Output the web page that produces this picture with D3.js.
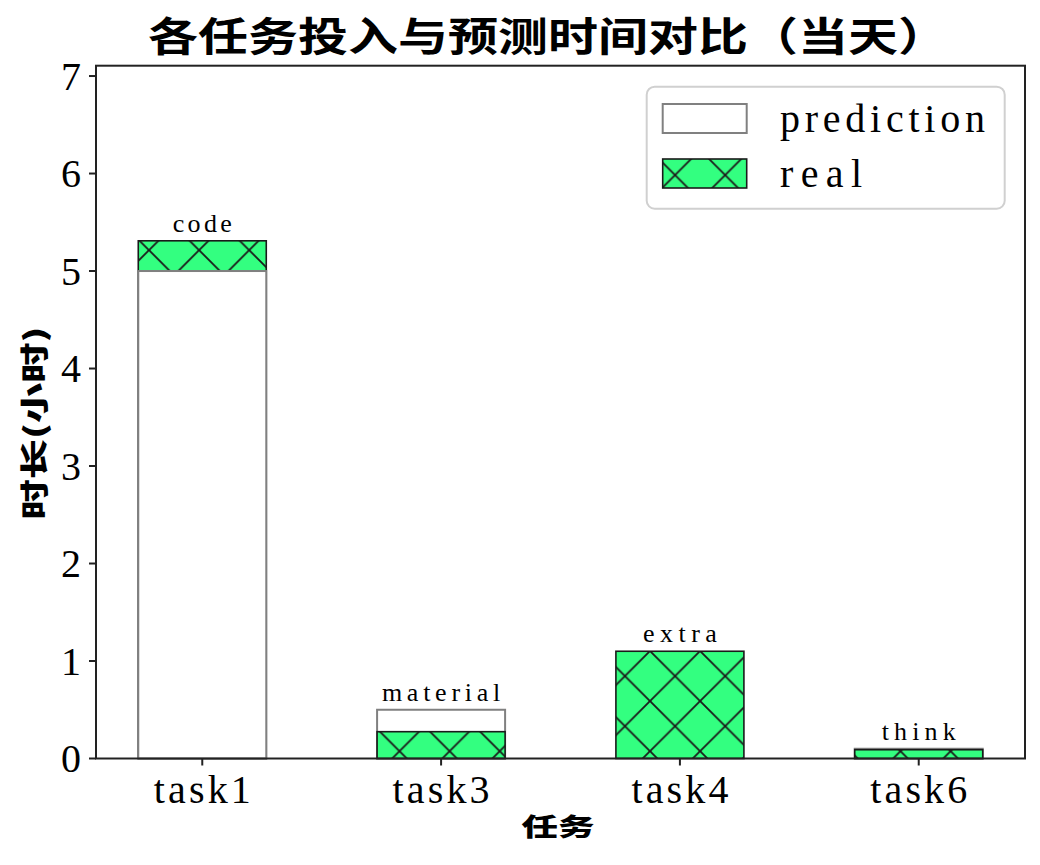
<!DOCTYPE html>
<html><head><meta charset="utf-8">
<script src="https://cdn.jsdelivr.net/npm/d3@7"></script>
<style>body{margin:0;background:#fff}svg{display:block}</style>
</head><body>
<script>
const tasks = ["task1", "task3", "task4", "task6"];
const prediction = [5, 0.5, 0, 0.1];
const real = [5.31, 0.275, 1.1, 0.09];
const barLabels = ["code", "material", "extra", "think"];
const yTicks = [0, 1, 2, 3, 4, 5, 6, 7];

const W = 1040, H = 865;
const L = 96, R = 1025, T = 65.7, B = 758.5;
const svg = d3.select("body").append("svg").attr("width", W).attr("height", H);

const x = d3.scaleLinear().domain([-0.445, tasks.length - 1 + 0.445]).range([L, R]);
const y = d3.scaleLinear().domain([0, 7.106]).range([B, T]);
const bw = 0.536;
const serif = "'Liberation Serif', 'DejaVu Serif', serif";
const cjk = "'Noto Sans CJK SC', sans-serif";

// hatch pattern
const p = 50.1;
const defs = svg.append("defs");
const pat = defs.append("pattern").attr("id", "hx").attr("patternUnits", "userSpaceOnUse")
  .attr("x", -1.3).attr("y", -0.3).attr("width", p).attr("height", p);
pat.append("rect").attr("width", p).attr("height", p).attr("fill", "#33ff80");
let d = "";
for (const o of [-p, 0, p]) {
  d += `M${o - 3},${-3} L${o + p + 3},${p + 3} `;
  d += `M${o - 3},${p + 3} L${o + p + 3},${-3} `;
}
pat.append("path").attr("d", d).attr("stroke", "#1a1a1a").attr("stroke-width", 1.8).attr("fill", "none");

// bars
const g = svg.append("g");
tasks.forEach((t, i) => {
  const items = [
    {v: prediction[i], kind: "p"},
    {v: real[i], kind: "r"}
  ].filter(e => e.v > 0).sort((a, b) => b.v - a.v);
  items.forEach(e => {
    g.append("rect")
      .attr("x", x(i - bw / 2)).attr("width", x(i + bw / 2) - x(i - bw / 2))
      .attr("y", y(e.v)).attr("height", y(0) - y(e.v))
      .attr("fill", e.kind === "p" ? "#ffffff" : "url(#hx)")
      .attr("stroke", e.kind === "p" ? "#808080" : "#1a1a1a")
      .attr("stroke-width", e.kind === "p" ? 2 : 1.6);
  });
  const top = Math.max(prediction[i], real[i]);
  g.append("text").attr("x", x(i)).attr("y", y(top) - 9)
    .attr("text-anchor", "middle").attr("font-family", serif).attr("font-size", 26)
    .attr("textLength", barLabels[i].length * 14.8).attr("lengthAdjust", "spacing")
    .attr("fill", "#000").text(barLabels[i]);
});

// axes frame
svg.append("rect").attr("x", L).attr("y", T).attr("width", R - L).attr("height", B - T)
  .attr("fill", "none").attr("stroke", "#222").attr("stroke-width", 2);

// y ticks
yTicks.forEach(v => {
  svg.append("line").attr("x1", L - 7).attr("x2", L).attr("y1", y(v)).attr("y2", y(v))
    .attr("stroke", "#222").attr("stroke-width", 2);
  svg.append("text").attr("x", L - 15).attr("y", y(v) + 13.5).attr("text-anchor", "end")
    .attr("font-family", serif).attr("font-size", 40).attr("fill", "#000").text(v);
});
// x ticks
tasks.forEach((t, i) => {
  svg.append("line").attr("x1", x(i)).attr("x2", x(i)).attr("y1", B).attr("y2", B + 7)
    .attr("stroke", "#222").attr("stroke-width", 2);
  svg.append("text").attr("x", x(i)).attr("y", 803).attr("text-anchor", "middle")
    .attr("font-family", serif).attr("font-size", 40).attr("textLength", 97)
    .attr("lengthAdjust", "spacing").attr("fill", "#000").text(t);
});

// title
svg.append("text").attr("x", 548).attr("y", 51).attr("text-anchor", "middle")
  .attr("font-family", cjk).attr("font-weight", 700).attr("font-size", 40)
  .attr("textLength", 800).attr("lengthAdjust", "spacingAndGlyphs")
  .attr("fill", "#000").text("各任务投入与预测时间对比（当天）");
// x label
svg.append("text").attr("x", 558).attr("y", 836).attr("text-anchor", "middle")
  .attr("font-family", cjk).attr("font-weight", 900).attr("font-size", 25)
  .attr("textLength", 73).attr("lengthAdjust", "spacingAndGlyphs")
  .attr("fill", "#000").text("任务");
// y label
svg.append("text").attr("transform", "translate(45,423) rotate(-90)").attr("text-anchor", "middle")
  .attr("font-family", cjk).attr("font-weight", 900).attr("font-size", 28)
  .attr("textLength", 193).attr("lengthAdjust", "spacingAndGlyphs")
  .attr("fill", "#000").text("时长(小时)");

// legend
const lg = svg.append("g");
lg.append("rect").attr("x", 646.7).attr("y", 86.7).attr("width", 358).attr("height", 122)
  .attr("rx", 8).attr("fill", "#fff").attr("fill-opacity", 0.8)
  .attr("stroke", "#d0d0d0").attr("stroke-width", 2);
const legendItems = [
  {name: "prediction", fill: "#ffffff", stroke: "#808080", sw: 2},
  {name: "real", fill: "url(#hx)", stroke: "#1a1a1a", sw: 1.6}
];
legendItems.forEach((it, k) => {
  const yy = 104 + k * 55;
  lg.append("rect").attr("x", 662.7).attr("y", yy).attr("width", 84).attr("height", 29)
    .attr("fill", it.fill).attr("stroke", it.stroke).attr("stroke-width", it.sw);
  lg.append("text").attr("x", 780).attr("y", yy + 27.7)
    .attr("font-family", serif).attr("font-size", 40)
    .attr("textLength", it.name.length * 20.5).attr("lengthAdjust", "spacing")
    .attr("fill", "#000").text(it.name);
});
</script>
</body></html>
